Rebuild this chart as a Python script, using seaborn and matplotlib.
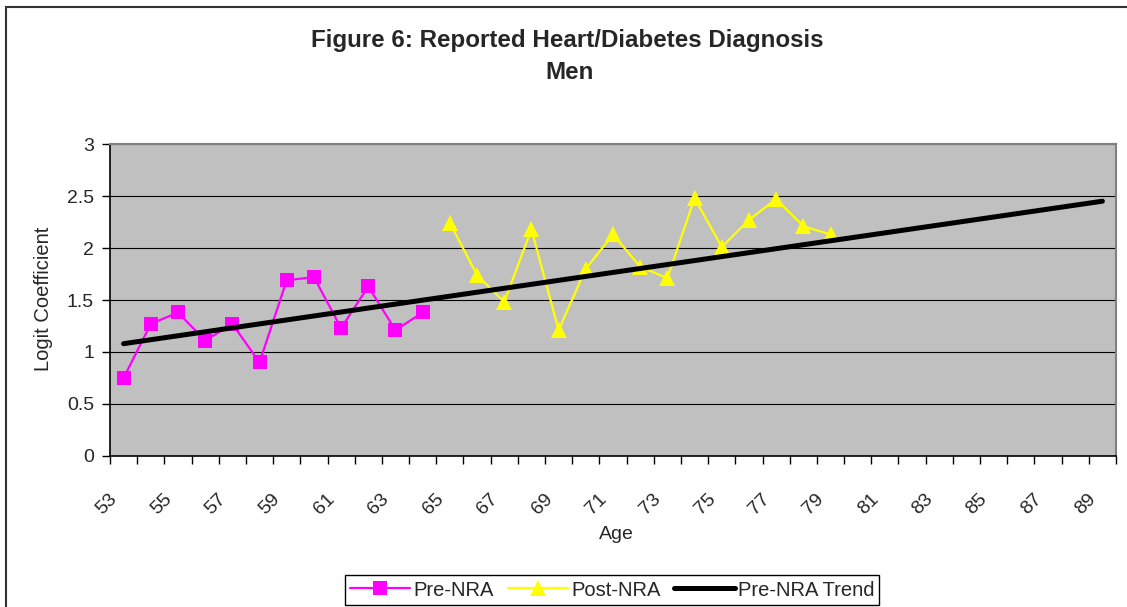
import numpy as np
import pandas as pd
import seaborn as sns
import matplotlib.pyplot as plt
import matplotlib.transforms as mtransforms
from matplotlib.patches import Rectangle
from matplotlib.ticker import FuncFormatter

# values
pre_ages = [53, 54, 55, 56, 57, 58, 59, 60, 61, 62, 63, 64]
pre_values = [0.75, 1.27, 1.38, 1.11, 1.27, 0.90, 1.69, 1.72, 1.23, 1.63, 1.21, 1.38]

post_ages = [65, 66, 67, 68, 69, 70, 71, 72, 73, 74, 75, 76, 77, 78, 79]
post_values = [2.24, 1.74, 1.48, 2.18, 1.21, 1.80, 2.13, 1.82, 1.71, 2.48, 2.01, 2.27, 2.47, 2.21, 2.13]

# end points of the Excel linear trend fitted to the pre-NRA points
trend_ages = [53, 89]
trend_values = [1.08, 2.45]

age_labels = list(range(53, 90, 2))
y_ticks = [0, 0.5, 1, 1.5, 2, 2.5, 3]

sns.set_style("white")
plt.rcParams['font.family'] = ['Liberation Sans', 'DejaVu Sans']

fig = plt.figure(figsize=(11.27, 6.07), dpi=100)
ax = fig.add_axes([110 / 1127, 151 / 607, 1006 / 1127, 312 / 607])
ax.set_facecolor("#C0C0C0")

pre_df = pd.DataFrame({"age": pre_ages, "value": pre_values})
post_df = pd.DataFrame({"age": post_ages, "value": post_values})
trend_df = pd.DataFrame({"age": trend_ages, "value": trend_values})

sns.lineplot(data=pre_df, x="age", y="value", ax=ax, color="#FF00FF", lw=1.6,
             marker="s", markersize=10, markeredgewidth=0, zorder=4)
sns.lineplot(data=post_df, x="age", y="value", ax=ax, color="#FFFF00", lw=1.6,
             marker="^", markersize=11, markeredgewidth=0, zorder=4)
sns.lineplot(data=trend_df, x="age", y="value", ax=ax, color="black", lw=3.6,
             solid_capstyle="round", zorder=5)

ax.set_xlim(52.5, 89.5)
ax.set_ylim(0, 3)
ax.set_yticks(y_ticks)
ax.yaxis.set_major_formatter(FuncFormatter(lambda v, p: f"{v:g}"))
ax.grid(axis="y", color="black", lw=0.8)
ax.grid(axis="x", visible=False)
ax.set_axisbelow(True)

# category style x axis: tick marks at the boundaries, labels on odd ages
ax.set_xticks(age_labels)
ax.set_xticklabels([str(a) for a in age_labels], rotation=45, ha="right",
                   va="center", rotation_mode="anchor")
ax.set_xticks(np.arange(52.5, 90, 1), minor=True)
ax.tick_params(axis="x", which="major", length=0, pad=29, labelsize=14)
ax.tick_params(axis="x", which="minor", length=5.5, width=1, direction="out",
               color="black", bottom=True)
ax.tick_params(axis="y", which="major", length=5.5, width=1, direction="out",
               color="black", left=True, pad=6, labelsize=14)
offset = mtransforms.ScaledTranslation(-9 / 100, 0, fig.dpi_scale_trans)
for lab in ax.get_xticklabels():
    lab.set_transform(lab.get_transform() + offset)

for side in ["left", "bottom"]:
    ax.spines[side].set_color("black")
    ax.spines[side].set_linewidth(1.2)
for side in ["top", "right"]:
    ax.spines[side].set_color("#808080")
    ax.spines[side].set_linewidth(1.5)

ax.set_xlabel("Age", fontsize=14)
ax.xaxis.label.set_va("center")
ax.xaxis.set_label_coords(0.503, -0.252)
ax.set_ylabel("Logit Coefficient", fontsize=14.5)
ax.yaxis.label.set_va("center")
ax.yaxis.set_label_coords(-0.0666, 0.503)

fig.text(567 / 1127, 1 - 41 / 607, "Figure 6: Reported Heart/Diabetes Diagnosis",
         ha="center", va="center", fontsize=17.4, fontweight="bold")
fig.text(570 / 1127, 1 - 72.5 / 607, "Men",
         ha="center", va="center", fontsize=17.4, fontweight="bold")

handles = ax.get_lines()[:3]
leg = fig.legend(handles, ["Pre-NRA", "Post-NRA", "Pre-NRA Trend"], loc="center",
                 bbox_to_anchor=(612 / 1127, 1 - 590 / 607), ncol=3, fontsize=14.5,
                 frameon=True, fancybox=False, framealpha=1, edgecolor="black",
                 handlelength=3.0, handletextpad=0.15, columnspacing=0.7,
                 borderpad=0.25, borderaxespad=0)
leg.get_frame().set_linewidth(1)

# outer chart border
fig.patches.append(Rectangle((5.5 / 1127, -0.05), 1.1, 1 - 7 / 607 + 0.05,
                             transform=fig.transFigure, fill=False,
                             edgecolor="#333333", lw=1.5))

fig.savefig("out.png", dpi=100)
